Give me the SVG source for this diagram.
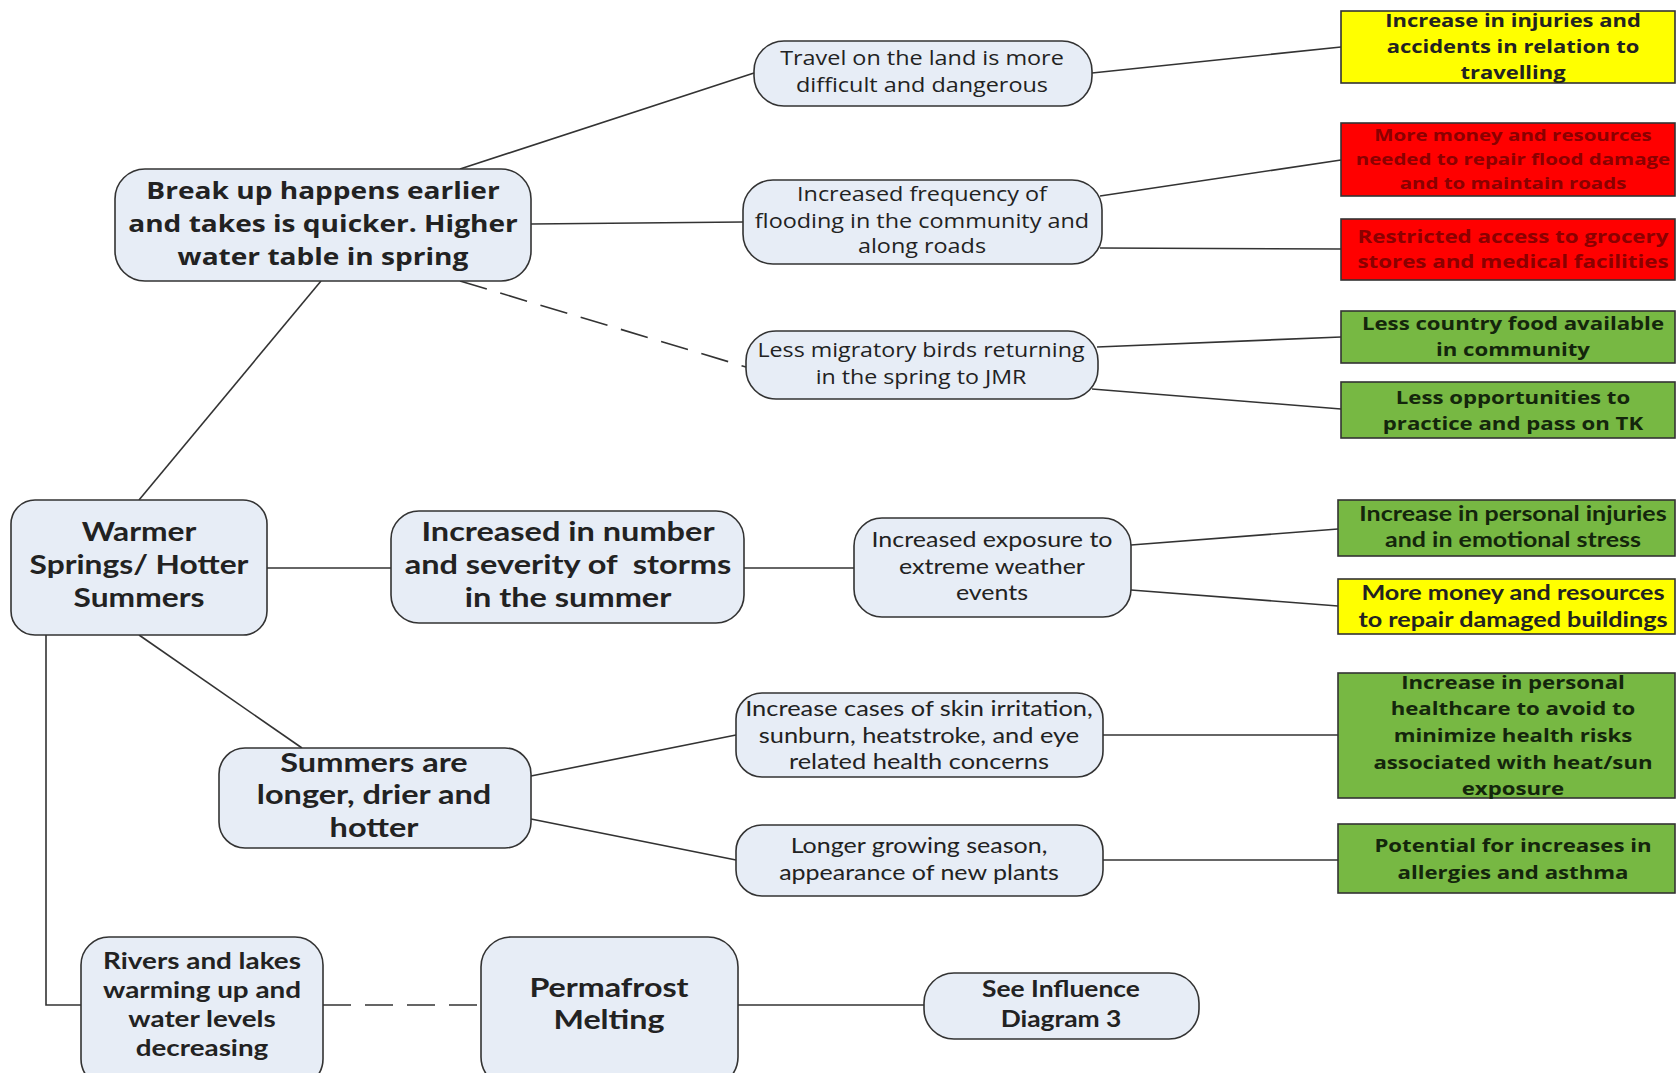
<svg xmlns="http://www.w3.org/2000/svg" width="1676" height="1073" viewBox="0 0 1676 1073">
<style>
.n{fill:#e7edf6;stroke:#333;stroke-width:1.6}
.w{font-family:"Open Sans","Liberation Sans",sans-serif;text-anchor:middle;fill:#222}
.c{font-family:Lato,"Liberation Sans",sans-serif;text-anchor:middle;fill:#222}
.b{font-weight:bold}
.yl{fill:#ffff00;stroke:#333;stroke-width:1.6}
.rd{fill:#ff0000;stroke:#333;stroke-width:1.6}
.gr{fill:#77b843;stroke:#333;stroke-width:1.6}
.l{stroke:#333;stroke-width:1.6;fill:none}
.d{stroke-dasharray:28 14}
.tr{fill:#8a0000}
.tg{fill:#14260c}
</style>
<rect width="1676" height="1073" fill="#fff"/>
<g id="connectors">
<line class="l" x1="139" y1="500" x2="321" y2="281"/>
<line class="l" x1="460" y1="169" x2="754" y2="73"/>
<line class="l" x1="531" y1="224" x2="743" y2="222"/>
<line class="l d" x1="460" y1="281" x2="746" y2="367"/>
<line class="l" x1="1092" y1="73" x2="1341" y2="47"/>
<line class="l" x1="1100" y1="196" x2="1341" y2="160"/>
<line class="l" x1="1100" y1="248" x2="1341" y2="249"/>
<line class="l" x1="1097" y1="347" x2="1341" y2="337"/>
<line class="l" x1="1092" y1="389" x2="1341" y2="409"/>
<line class="l" x1="267" y1="568" x2="391" y2="568"/>
<line class="l" x1="744" y1="568" x2="854" y2="568"/>
<line class="l" x1="1131" y1="545" x2="1338" y2="529"/>
<line class="l" x1="1131" y1="590" x2="1338" y2="606"/>
<line class="l" x1="139" y1="635" x2="302" y2="748"/>
<line class="l" x1="531" y1="776" x2="736" y2="735"/>
<line class="l" x1="531" y1="819" x2="736" y2="860"/>
<line class="l" x1="1103" y1="735" x2="1338" y2="735"/>
<line class="l" x1="1103" y1="860" x2="1338" y2="860"/>
<polyline class="l" points="46,635 46,1005 81,1005"/>
<line class="l d" x1="323" y1="1005" x2="481" y2="1005"/>
<line class="l" x1="738" y1="1005" x2="924" y2="1005"/>
</g>
<g id="warmer"><rect class="n" x="11" y="500" width="256" height="135" rx="24"/>
<text class="c b" font-size="26" transform="matrix(1.22 0 0 1 -30.58 0)"><tspan x="139" y="541">Warmer</tspan><tspan x="139" y="574">Springs/ Hotter</tspan><tspan x="139" y="607">Summers</tspan></text></g>
<g id="breakup"><rect class="n" x="115" y="169" width="416" height="112" rx="30"/>
<text class="w b" font-size="24" transform="matrix(1.17 0 0 1 -54.91 0)"><tspan x="323" y="199">Break up happens earlier</tspan><tspan x="323" y="232">and takes is quicker. Higher</tspan><tspan x="323" y="265">water table in spring</tspan></text></g>
<g id="travel"><rect class="n" x="754" y="41" width="338" height="65" rx="30"/>
<text class="w" font-size="19.5" transform="matrix(1.2 0 0 1 -184.4 0)"><tspan x="922" y="65">Travel on the land is more</tspan><tspan x="922" y="92">difficult and dangerous</tspan></text></g>
<g id="flooding"><rect class="n" x="743" y="180" width="359" height="84" rx="30"/>
<text class="w" font-size="19.5" transform="matrix(1.2 0 0 1 -184.4 0)"><tspan x="922" y="201">Increased frequency of</tspan><tspan x="922" y="228">flooding in the community and</tspan><tspan x="922" y="253">along roads</tspan></text></g>
<g id="migratory"><rect class="n" x="746" y="331" width="352" height="68" rx="30"/>
<text class="w" font-size="19.5" transform="matrix(1.19 0 0 1 -174.99 0)"><tspan x="921" y="357">Less migratory birds returning</tspan><tspan x="921" y="384">in the spring to JMR</tspan></text></g>
<g id="storms"><rect class="n" x="391" y="511" width="353" height="112" rx="28"/>
<text class="c b" font-size="26" transform="matrix(1.25 0 0 1 -142 0)"><tspan x="568" y="541">Increased in number</tspan><tspan x="568" y="574">and severity of&#160; storms</tspan><tspan x="568" y="607">in the summer</tspan></text></g>
<g id="exposure"><rect class="n" x="854" y="518" width="277" height="99" rx="28"/>
<text class="c" font-size="21" transform="matrix(1.19 0 0 1 -188.48 0)"><tspan x="992" y="547">Increased exposure to</tspan><tspan x="992" y="574">extreme weather</tspan><tspan x="992" y="600">events</tspan></text></g>
<g id="summers"><rect class="n" x="219" y="748" width="312" height="100" rx="26"/>
<text class="c b" font-size="26" transform="matrix(1.25 0 0 1 -93.5 0)"><tspan x="374" y="772">Summers are</tspan><tspan x="374" y="804">longer, drier and</tspan><tspan x="374" y="837">hotter</tspan></text></g>
<g id="skin"><rect class="n" x="736" y="693" width="367" height="84" rx="26"/>
<text class="c" font-size="20.5" transform="matrix(1.24 0 0 1 -220.56 0)"><tspan x="919" y="716">Increase cases of skin irritation,</tspan><tspan x="919" y="743">sunburn, heatstroke, and eye</tspan><tspan x="919" y="769">related health concerns</tspan></text></g>
<g id="growing"><rect class="n" x="736" y="825" width="367" height="71" rx="26"/>
<text class="c" font-size="20.5" transform="matrix(1.22 0 0 1 -202.18 0)"><tspan x="919" y="853">Longer growing season,</tspan><tspan x="919" y="880">appearance of new plants</tspan></text></g>
<g id="rivers"><rect class="n" x="81" y="937" width="242" height="150" rx="28"/>
<text class="c b" font-size="23" transform="matrix(1.21 0 0 1 -42.42 0)"><tspan x="202" y="969">Rivers and lakes</tspan><tspan x="202" y="998">warming up and</tspan><tspan x="202" y="1027">water levels</tspan><tspan x="202" y="1056">decreasing</tspan></text></g>
<g id="permafrost"><rect class="n" x="481" y="937" width="257" height="150" rx="30"/>
<text class="c b" font-size="26" transform="matrix(1.24 0 0 1 -146.16 0)"><tspan x="609" y="997">Permafrost</tspan><tspan x="609" y="1029">Melting</tspan></text></g>
<g id="seeinfluence"><rect class="n" x="924" y="973" width="275" height="66" rx="30"/>
<text class="c b" font-size="22" transform="matrix(1.2 0 0 1 -212.2 0)"><tspan x="1061" y="997">See Influence</tspan><tspan x="1061" y="1027">Diagram 3</tspan></text></g>
<g id="injuries-travel"><rect class="yl" x="1341" y="11" width="334" height="72"/>
<text class="w b" font-size="18" transform="matrix(1.22 0 0 1 -332.86 0)"><tspan x="1513" y="27">Increase in injuries and</tspan><tspan x="1513" y="53">accidents in relation to</tspan><tspan x="1513" y="79">travelling</tspan></text></g>
<g id="flood-money"><rect class="rd" x="1341" y="123" width="334" height="73"/>
<text class="w b tr" font-size="16.5" transform="matrix(1.24 0 0 1 -363.12 0)"><tspan x="1513" y="141">More money and resources</tspan><tspan x="1513" y="165">needed to repair flood damage</tspan><tspan x="1513" y="189">and to maintain roads</tspan></text></g>
<g id="restricted"><rect class="rd" x="1341" y="219" width="334" height="61"/>
<text class="w b tr" font-size="18" transform="matrix(1.24 0 0 1 -363.12 0)"><tspan x="1513" y="243">Restricted access to grocery</tspan><tspan x="1513" y="268">stores and medical facilities</tspan></text></g>
<g id="country-food"><rect class="gr" x="1341" y="311" width="334" height="52"/>
<text class="w b tg" font-size="18.5" transform="matrix(1.2 0 0 1 -302.6 0)"><tspan x="1513" y="330">Less country food available</tspan><tspan x="1513" y="356">in community</tspan></text></g>
<g id="tk"><rect class="gr" x="1341" y="382" width="334" height="56"/>
<text class="w b tg" font-size="18.5" transform="matrix(1.2 0 0 1 -302.6 0)"><tspan x="1513" y="404">Less opportunities to</tspan><tspan x="1513" y="430">practice and pass on TK</tspan></text></g>
<g id="personal-injuries"><rect class="gr" x="1338" y="500" width="337" height="56"/>
<text class="c b tg" font-size="20" transform="matrix(1.25 0 0 1 -378.25 0)"><tspan x="1513" y="521">Increase in personal injuries</tspan><tspan x="1513" y="547">and in emotional stress</tspan></text></g>
<g id="repair-buildings"><rect class="yl" x="1338" y="579" width="337" height="55"/>
<text class="c b" font-size="20" fill="#222" transform="matrix(1.26 0 0 1 -393.38 0)"><tspan x="1513" y="600">More money and resources</tspan><tspan x="1513" y="627">to repair damaged buildings</tspan></text></g>
<g id="healthcare"><rect class="gr" x="1338" y="673" width="337" height="125"/>
<text class="w b tg" font-size="18.5" transform="matrix(1.2 0 0 1 -302.6 0)"><tspan x="1513" y="689">Increase in personal</tspan><tspan x="1513" y="715">healthcare to avoid to</tspan><tspan x="1513" y="742">minimize health risks</tspan><tspan x="1513" y="769">associated with heat/sun</tspan><tspan x="1513" y="795">exposure</tspan></text></g>
<g id="allergies"><rect class="gr" x="1338" y="824" width="337" height="69"/>
<text class="w b tg" font-size="18.5" transform="matrix(1.2 0 0 1 -302.6 0)"><tspan x="1513" y="852">Potential for increases in</tspan><tspan x="1513" y="879">allergies and asthma</tspan></text></g>
</svg>
